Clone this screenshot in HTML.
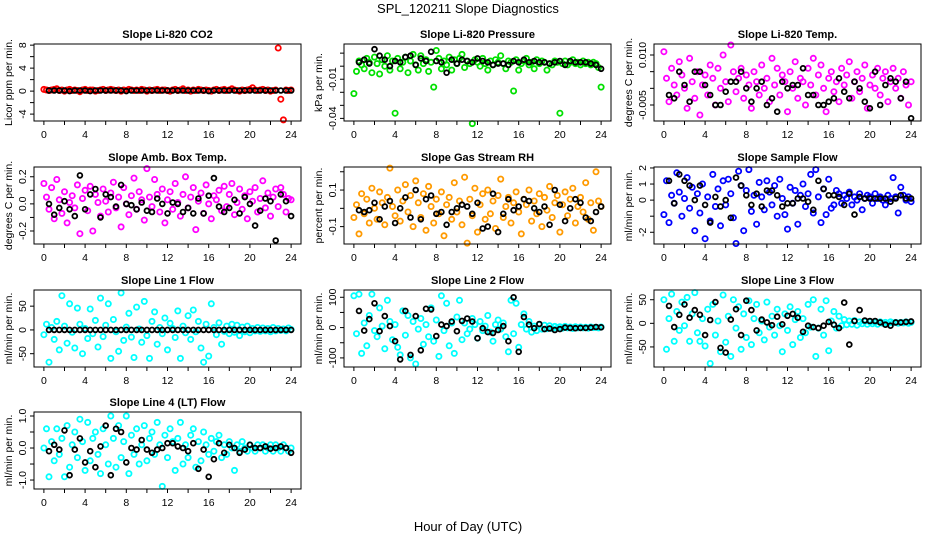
<!DOCTYPE html>
<html><head><meta charset="utf-8"><style>
html,body{margin:0;padding:0;background:#fff;}
svg{display:block;font-family:"Liberation Sans",sans-serif;}
</style></head><body>
<svg id="chart" width="936" height="540" viewBox="0 0 936 540" xmlns="http://www.w3.org/2000/svg">
<text x="468" y="13" text-anchor="middle" font-size="13">SPL_120211  Slope Diagnostics</text>
<text x="468" y="531" text-anchor="middle" font-size="13">Hour of Day (UTC)</text>
</svg>
<script>
const hours = [0,0.25,0.5,0.75,1,1.25,1.5,1.75,2,2.25,2.5,2.75,3,3.25,3.5,3.75,4,4.25,4.5,4.75,5,5.25,5.5,5.75,6,6.25,6.5,6.75,7,7.25,7.5,7.75,8,8.25,8.5,8.75,9,9.25,9.5,9.75,10,10.25,10.5,10.75,11,11.25,11.5,11.75,12,12.25,12.5,12.75,13,13.25,13.5,13.75,14,14.25,14.5,14.75,15,15.25,15.5,15.75,16,16.25,16.5,16.75,17,17.25,17.5,17.75,18,18.25,18.5,18.75,19,19.25,19.5,19.75,20,20.25,20.5,20.75,21,21.25,21.5,21.75,22,22.25,22.5,22.75,23,23.25,23.5,23.75,24];
const blackHours = [0.5,1,1.5,2,2.5,3,3.5,4,4.5,5,5.5,6,6.5,7,7.5,8,8.5,9,9.5,10,10.5,11,11.5,12,12.5,13,13.5,14,14.5,15,15.5,16,16.5,17,17.5,18,18.5,19,19.5,20,20.5,21,21.5,22,22.5,23,23.5,24];
const xTicks = [0,2,4,6,8,10,12,14,16,18,20,22,24];
const xTickLabels = ["0","","4","","8","","12","","16","","20","","24"];

const co2 = [0.3,0.2,0.1,0.2,0.3,0.4,0.1,0.2,0.0,0.2,0.3,0.1,0.2,0.1,-0.1,0.2,0.3,0.1,0.2,0.2,0.0,0.1,0.2,0.3,0.1,0.2,0.3,0.2,0.1,0.2,0.0,0.2,0.1,0.3,0.2,0.1,0.2,0.1,0.3,0.2,0.0,0.2,0.1,0.2,0.3,0.1,0.2,0.2,0.1,0.0,0.2,0.3,0.1,0.2,0.4,0.1,0.2,0.0,0.2,0.1,0.3,0.2,0.1,0.2,0.1,0.0,0.2,0.3,0.1,0.2,0.3,0.1,0.2,0.4,0.2,0.1,0.0,0.2,0.1,0.2,0.3,0.6,0.2,0.1,0.2,0.3,0.1,0.2,0.0,0.1,0.2,7.5,-1.4,-5.0,0.2,0.1,0.2];
const co2Black = [0.1,0.1,0.1,0.1,0.0,0.1,0.1,0.1,0.0,0.1,0.1,0.1,0.1,0.1,0.1,0.0,0.1,0.1,0.1,0.1,0.1,0.1,0.1,0.1,0.1,0.1,0.1,0.1,0.1,0.1,0.1,0.0,0.1,0.1,0.1,0.1,0.1,0.1,0.1,0.1,0.1,0.1,0.1,0.1,0.1,0.1,0.1,0.1];
const pres = [-0.021,-0.004,0.004,0.001,-0.002,0.006,0.003,-0.005,0.007,0.002,-0.006,0.005,0.000,0.008,-0.003,0.004,-0.036,0.006,-0.002,0.003,0.007,-0.005,0.004,0.009,0.001,-0.003,0.008,0.002,0.005,-0.004,0.003,-0.016,0.012,0.006,-0.002,0.004,0.001,0.007,-0.003,0.005,0.002,0.006,0.009,-0.001,0.004,0.002,-0.044,0.005,0.003,0.000,0.006,0.002,-0.003,0.004,0.001,0.005,0.003,0.008,0.002,-0.002,0.004,0.003,-0.019,0.005,-0.003,0.002,0.004,0.006,0.001,0.003,-0.002,0.005,0.002,0.004,0.003,-0.003,0.002,0.001,0.004,0.003,-0.036,0.002,0.004,0.001,0.003,0.005,0.002,0.003,0.001,0.004,0.002,0.003,0.001,0.003,0.002,-0.001,-0.016];
const presBlack = [0.003,0.005,0.002,0.013,0.008,0.005,0.000,0.004,0.003,0.007,0.008,0.001,0.006,0.004,0.011,0.004,0.003,-0.005,0.005,0.002,0.005,0.004,0.003,0.006,0.004,0.003,0.001,0.002,0.002,0.001,0.004,0.003,0.005,0.003,0.004,0.003,0.003,0.002,0.003,0.004,0.001,0.004,0.003,0.003,0.003,0.002,0.001,-0.002];
const ltemp = [0.011,0.003,-0.004,0.006,0.001,-0.002,0.008,0.004,0.000,-0.006,0.009,0.002,-0.003,0.005,-0.008,0.001,0.004,-0.002,0.007,0.003,-0.005,0.006,0.000,0.010,0.002,-0.004,0.013,0.005,-0.001,0.003,0.006,-0.003,0.004,0.001,-0.006,0.005,0.002,-0.002,0.007,0.000,0.003,-0.004,0.009,0.001,0.006,-0.002,0.004,0.002,-0.007,0.005,0.000,0.008,-0.003,0.003,0.002,-0.005,0.006,0.001,0.009,-0.002,0.004,0.007,0.000,-0.007,0.003,0.005,-0.001,0.002,-0.004,0.006,0.001,0.004,0.008,-0.003,0.002,0.005,-0.001,0.003,0.007,-0.006,0.001,0.004,0.000,0.006,-0.002,0.003,0.005,-0.004,0.002,0.006,0.000,0.003,-0.003,0.005,0.001,-0.005,0.002];
const ltempBlack = [-0.002,-0.003,0.005,0.001,-0.004,0.005,0.005,0.001,-0.002,-0.005,-0.005,-0.001,0.002,0.002,0.005,0.000,-0.004,0.000,0.002,-0.005,-0.003,-0.007,0.002,0.000,0.001,0.001,0.006,-0.002,-0.002,-0.005,-0.005,-0.004,-0.003,0.003,-0.001,-0.003,0.002,0.000,-0.004,-0.006,0.005,-0.005,0.001,0.003,0.002,-0.003,0.002,-0.009];
const amb = [0.15,0.05,-0.04,0.12,-0.11,0.18,0.03,-0.07,0.09,-0.14,0.01,0.06,-0.03,0.14,-0.22,0.04,0.10,-0.05,0.13,-0.20,0.07,0.01,-0.09,0.11,0.02,-0.06,0.08,0.16,-0.03,0.05,-0.17,0.12,0.00,-0.08,0.06,0.19,-0.04,0.09,0.03,-0.12,0.26,0.05,-0.02,0.18,0.07,-0.06,0.11,-0.14,0.03,0.09,-0.04,0.15,0.01,-0.09,0.07,0.20,-0.03,0.05,0.12,-0.19,0.02,0.08,-0.07,0.14,0.00,-0.11,0.06,0.03,0.10,-0.05,0.13,-0.02,0.07,0.15,-0.08,0.01,0.11,-0.04,0.06,-0.11,0.09,0.02,0.12,-0.06,0.04,0.17,-0.03,0.08,-0.09,0.05,0.11,-0.02,0.12,0.07,-0.06,0.04,0.03];
const ambBlack = [0.00,-0.08,-0.03,0.02,-0.04,-0.09,0.21,-0.04,0.07,0.11,-0.10,0.07,0.05,-0.02,0.14,0.00,-0.01,-0.04,0.01,-0.05,-0.06,0.04,0.00,-0.07,0.01,0.00,-0.06,-0.03,-0.07,0.04,-0.07,0.06,0.19,-0.02,-0.06,-0.03,0.03,-0.07,0.05,0.00,-0.16,-0.05,0.04,0.02,-0.27,0.07,0.02,-0.09];
const rh = [-0.05,0.02,-0.14,0.08,-0.03,0.05,-0.08,0.11,0.00,-0.06,0.09,0.03,-0.09,0.06,0.22,0.01,-0.04,0.10,-0.07,0.04,0.13,-0.02,0.07,-0.10,0.15,0.03,-0.05,0.08,-0.12,0.12,0.01,-0.08,0.05,-0.03,0.09,-0.15,0.02,0.06,-0.06,0.14,-0.02,0.04,-0.09,0.17,-0.19,0.05,-0.04,0.11,-0.13,0.02,0.08,-0.06,0.10,-0.03,0.04,-0.11,0.07,0.16,-0.05,0.01,0.06,-0.08,0.03,0.09,-0.02,-0.14,0.05,0.02,0.10,-0.07,0.04,-0.03,0.08,-0.10,0.06,-0.01,0.12,-0.05,0.03,0.07,-0.13,0.02,0.09,-0.04,0.05,0.11,-0.08,0.01,0.06,-0.02,0.14,-0.06,0.03,-0.12,0.20,0.04,0.01];
const rhBlack = [-0.01,-0.02,-0.01,0.03,-0.06,0.01,0.04,-0.08,0.00,0.06,-0.05,0.10,-0.06,0.05,0.07,-0.03,-0.02,-0.09,-0.02,0.00,0.02,0.01,-0.03,0.03,-0.11,-0.10,0.08,-0.13,-0.03,0.05,-0.01,0.01,0.05,0.04,0.00,-0.02,0.01,-0.09,0.10,0.02,-0.07,0.00,0.05,0.03,-0.05,-0.07,-0.02,0.01];
const sflow = [-0.9,1.2,-1.4,0.3,-0.2,1.7,0.5,-1.0,0.1,1.4,-0.5,0.8,-1.9,0.4,-0.8,1.0,-2.4,0.2,-1.3,1.6,-0.4,0.7,-1.6,1.2,-0.3,1.3,0.4,-1.1,-2.7,1.8,0.9,-1.9,0.6,1.9,-0.7,0.3,-1.5,1.1,0.2,-0.6,1.2,0.5,-0.3,0.9,-1.0,1.3,0.1,-0.9,-1.8,0.8,-0.2,0.6,-1.5,0.3,1.0,-0.4,0.4,1.6,-0.8,1.9,0.2,-1.4,0.7,-0.9,1.3,-0.5,-0.3,0.6,0.4,-0.2,0.3,0.1,0.5,-0.3,0.2,0.0,0.4,-0.6,0.1,0.3,0.2,-0.2,0.4,0.1,0.2,0.0,-0.3,0.3,0.1,1.4,0.2,-0.8,0.8,0.3,0.0,0.2,-0.1];
const sflowBlack = [1.2,-0.2,1.6,1.2,0.9,0.0,0.9,-0.3,-1.4,0.2,-0.4,0.0,-1.1,1.4,0.9,0.3,-0.3,0.4,-0.4,0.6,0.6,0.3,-0.4,-0.2,-0.2,0.1,0.1,-0.1,-0.6,1.2,0.7,0.3,0.3,0.2,-0.3,0.4,-0.9,0.2,0.1,0.1,0.1,0.1,0.1,-0.1,0.1,0.3,0.1,0.1];
const line1 = [-10,12,-68,5,-20,18,-42,72,8,-28,55,-5,-38,46,12,-50,3,-18,44,-8,20,-36,67,-14,10,55,-60,22,-4,-45,78,-22,6,35,-15,-58,48,2,-26,60,-12,-60,18,38,-30,5,-8,25,-42,14,3,-16,40,-60,8,-6,30,-20,42,-4,18,-38,-68,12,-55,55,5,-10,15,-30,-3,8,-8,12,-5,10,-12,6,-4,8,-6,3,-2,5,-3,4,-2,3,-4,5,-2,3,-1,2,-2,4,1];
const line1Black = [0,0,0,0,0,0,0,0,0,0,0,0,0,0,0,0,0,0,0,0,0,0,0,0,0,0,0,0,0,0,0,0,0,0,0,0,0,0,0,0,0,0,0,0,0,0,0,0];
const line2 = [105,-20,110,-85,15,-60,40,110,-10,-30,65,5,-70,90,20,-40,10,-65,-90,55,-25,40,-100,20,-120,-5,30,-55,10,-30,65,-45,25,-95,105,-10,80,-60,15,-85,35,90,-40,15,-20,-5,30,10,-35,20,-10,5,40,-15,-45,10,25,-5,15,-30,-80,90,-20,80,-65,10,45,-5,20,-15,5,-10,10,-5,8,-4,6,-3,4,-2,3,-2,4,-1,2,-3,3,-1,2,-1,1,-2,2,0,1,-1,2];
const line2Black = [55,-10,28,80,-12,38,5,-45,-105,55,-90,38,-75,62,60,-28,10,5,20,-12,22,30,20,-35,-2,-15,-18,-8,5,-45,100,-80,35,10,-2,12,-5,-3,-8,-5,0,-1,-2,-1,-1,0,2,1];
const line3 = [50,-55,10,62,-38,25,-15,45,-5,55,-38,20,65,-20,-38,10,-48,30,-85,40,-25,5,-60,60,-40,15,-70,50,-10,35,-55,20,-30,48,-45,10,40,-20,5,-35,45,-8,15,-25,30,-5,-60,20,-15,35,-45,8,25,-30,10,-20,40,-8,50,-70,-10,30,-25,48,-58,5,25,-10,15,-5,8,-3,5,-2,6,-4,3,-1,4,-2,3,-1,2,-2,3,0,2,-1,3,1,2,0,2,1,3,0,2];
const line3Black = [37,-8,18,40,12,28,18,-25,7,45,-52,-62,8,30,-25,48,28,-15,8,2,-4,14,-2,16,20,12,-18,-5,-8,-10,-5,3,-3,-10,44,-45,5,28,6,5,5,2,-3,-5,2,2,3,4];
const line4 = [0.0,0.6,-0.9,0.2,-0.4,0.6,-0.2,0.3,-0.9,0.7,-0.6,0.1,0.5,-0.3,0.9,0.2,-0.7,0.8,-0.4,0.3,0.5,-0.2,-0.8,0.6,0.1,-0.5,1.0,0.3,-0.6,0.7,-0.3,0.2,1.0,-0.8,0.4,-0.2,0.6,-0.5,0.1,0.7,-0.4,0.3,0.5,-0.2,0.8,0.1,-1.2,0.4,-0.3,0.6,0.2,-0.7,0.3,0.8,-0.5,0.1,-0.3,0.4,0.6,-0.6,0.2,-0.4,0.5,0.1,-0.2,0.3,-0.1,0.2,0.4,-0.3,0.1,-0.2,0.2,0.0,-0.7,0.1,-0.1,0.2,0.0,-0.1,0.1,0.0,-0.1,0.1,0.0,0.1,-0.1,0.0,0.1,-0.1,0.1,0.0,-0.1,0.1,0.0,-0.1,0.0];
const line4Black = [-0.1,0.1,-0.05,0.55,-0.85,-0.05,0.3,-0.45,-0.1,-0.6,0.05,0.7,-0.85,0.6,0.5,-0.45,0.0,-0.05,0.25,-0.05,-0.15,-0.05,0.0,0.15,0.15,0.05,0.0,-0.1,0.15,-0.65,-0.05,-0.9,-0.35,0.15,-0.15,0.1,0.0,-0.15,-0.05,0.1,0.0,0.0,0.05,-0.02,0.0,0.05,0.0,-0.15];

const panels = [
 {name:"co2",title:"Slope Li-820 CO2",ylab:"Licor ppm per min.",col:"#ff0000",c:co2,b:co2Black,ymin:-5.2,ymax:8.2,ticks:[8,6,4,2,0,-2,-4],labels:["8","","4","","0","","-4"],px:34,py:44},
 {name:"pressure",title:"Slope Li-820 Pressure",ylab:"kPa per min.",col:"#00e000",c:pres,b:presBlack,ymin:-0.042,ymax:0.017,ticks:[0.01,0,-0.01,-0.02,-0.03,-0.04],labels:["","","-0.01","","","-0.04"],px:344,py:44},
 {name:"li820-temp",title:"Slope Li-820 Temp.",ylab:"degrees C per min.",col:"#ff00ff",c:ltemp,b:ltempBlack,ymin:-0.0098,ymax:0.0133,ticks:[0.01,0.005,0,-0.005],labels:["0.010","","","-0.005"],px:654,py:44},
 {name:"amb-box-temp",title:"Slope Amb. Box Temp.",ylab:"degrees C per min.",col:"#ff00ff",c:amb,b:ambBlack,ymin:-0.296,ymax:0.272,ticks:[0.2,0.1,0,-0.1,-0.2],labels:["0.2","","0.0","","-0.2"],px:34,py:167},
 {name:"gas-stream-rh",title:"Slope Gas Stream RH",ylab:"percent per min.",col:"#ff9a00",c:rh,b:rhBlack,ymin:-0.195,ymax:0.226,ticks:[0.2,0.1,0,-0.1],labels:["","0.1","","-0.1"],px:344,py:167},
 {name:"sample-flow",title:"Slope Sample Flow",ylab:"ml/min per min.",col:"#0000ff",c:sflow,b:sflowBlack,ymin:-2.73,ymax:2.06,ticks:[2,1,0,-1,-2],labels:["2","1","0","","-2"],px:654,py:167},
 {name:"line1-flow",title:"Slope Line 1 Flow",ylab:"ml/min per min.",col:"#00ffff",c:line1,b:line1Black,ymin:-78,ymax:84,ticks:[50,0,-50],labels:["50","0","-50"],px:34,py:290},
 {name:"line2-flow",title:"Slope Line 2 Flow",ylab:"ml/min per min.",col:"#00ffff",c:line2,b:line2Black,ymin:-130,ymax:124,ticks:[100,50,0,-50,-100],labels:["100","","0","","-100"],px:344,py:290},
 {name:"line3-flow",title:"Slope Line 3 Flow",ylab:"ml/min per min.",col:"#00ffff",c:line3,b:line3Black,ymin:-92.5,ymax:70.6,ticks:[50,0,-50],labels:["50","0","-50"],px:654,py:290},
 {name:"line4-flow",title:"Slope Line 4 (LT) Flow",ylab:"ml/min per min.",col:"#00ffff",c:line4,b:line4Black,ymin:-1.28,ymax:1.125,ticks:[1,0.5,0,-0.5,-1],labels:["1.0","","0.0","","-1.0"],px:34,py:412}
];
const W=267,H=77,XMIN=-0.96,XMAX=24.96;
const svg=document.getElementById('chart');
const NS="http://www.w3.org/2000/svg";
function mk(tag,attrs,parent){const e=document.createElementNS(NS,tag);for(const k in attrs)e.setAttribute(k,attrs[k]);parent.appendChild(e);return e;}
panels.forEach(p=>{
  const g=mk('g',{},svg);
  
  
  const sx=v=>p.px+(v-XMIN)/(XMAX-XMIN)*W;
  const sy=v=>p.py+H-(v-p.ymin)/(p.ymax-p.ymin)*H;
  const t=mk('text',{x:p.px+W/2,y:p.py-6,'text-anchor':'middle','font-size':'11','font-weight':'bold'},g);
  t.textContent=p.title;
  
  
  const yl=mk('text',{x:0,y:0,'text-anchor':'middle','font-size':'10.5',transform:`translate(${p.px-22},${p.py+H/2}) rotate(-90)`},g);
  yl.textContent=p.ylab;
  
  
  const pts=mk('g',{fill:'none',stroke:p.col,'stroke-width':'1.8'},g);
  
  
  const n=Math.min(hours.length,p.c.length);
  for(let i=0;i<n;i++){
    const c=mk('circle',{cx:sx(hours[i]).toFixed(1),cy:sy(p.c[i]).toFixed(1),r:'2.6'},pts);
    
    
  }
  const bp=mk('g',{fill:'none',stroke:'#000','stroke-width':'1.8'},g);
  
  
  const m=Math.min(blackHours.length,p.b.length);
  for(let i=0;i<m;i++){
    const c=mk('circle',{cx:sx(blackHours[i]).toFixed(1),cy:sy(p.b[i]).toFixed(1),r:'2.4'},bp);
    
    
  }
  const box=mk('rect',{x:p.px,y:p.py,width:W,height:H,fill:'none',stroke:'#000','stroke-width':'1'},g);
  
  
  const xa=mk('g',{},g);
  
  
  xTicks.forEach((v,i)=>{
    const x=sx(v);
    mk('line',{x1:x,x2:x,y1:p.py+H,y2:p.py+H+4,stroke:'#000'},xa);
    if(xTickLabels[i]){const tl=mk('text',{x:x,y:p.py+H+17,'text-anchor':'middle','font-size':'10.5'},xa);tl.textContent=xTickLabels[i];}
  });
  const ya=mk('g',{},g);
  
  
  p.ticks.forEach((v,i)=>{
    const y=sy(v);
    mk('line',{x1:p.px-4,x2:p.px,y1:y,y2:y,stroke:'#000'},ya);
    if(p.labels[i]){const tl=mk('text',{x:0,y:0,'text-anchor':'middle','font-size':'10.5',transform:`translate(${p.px-8},${y}) rotate(-90)`},ya);tl.textContent=p.labels[i];}
  });
});
</script>
</body></html>
